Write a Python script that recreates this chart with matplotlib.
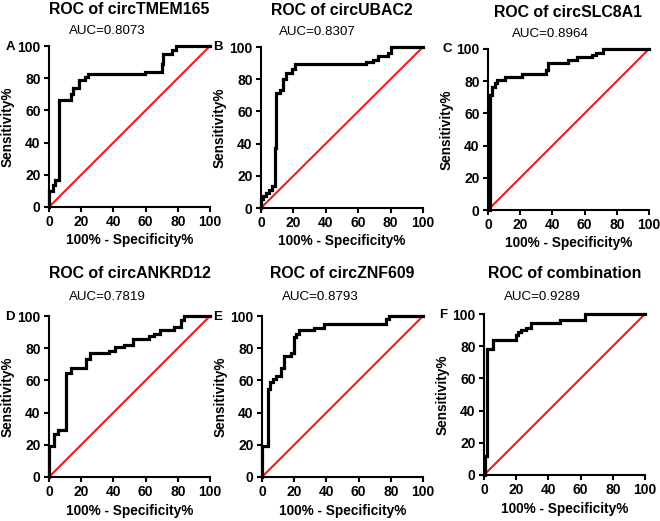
import matplotlib
matplotlib.use("Agg")
import matplotlib.pyplot as plt

plt.rcParams['font.family'] = ['Liberation Sans', 'DejaVu Sans']

# titles / AUC labels / panel letters
titles = ["ROC of circTMEM165", "ROC of circUBAC2", "ROC of circSLC8A1",
          "ROC of circANKRD12", "ROC of circZNF609", "ROC of combination"]
aucs = ["AUC=0.8073", "AUC=0.8307", "AUC=0.8964",
        "AUC=0.7819", "AUC=0.8793", "AUC=0.9289"]
letters = ["A", "B", "C", "D", "E", "F"]

# ROC corner points (100% - specificity, sensitivity), drawn as steps-post
fpr_a = [0, 0, 2.5, 4, 6.2, 13.5, 15, 18.6, 22.4, 24.4, 59.6, 70, 71, 76.6, 78.7, 100]
tpr_a = [0, 10, 13.5, 17, 66.7, 70, 74, 79, 80.6, 82.7, 84, 89, 95, 97.7, 100, 100]

fpr_b = [0, 0, 1, 3, 5, 6.6, 8.5, 9.5, 12, 13.5, 15.5, 19, 21, 65, 69, 72, 78.5, 80.5, 100]
tpr_b = [0, 5.6, 7.3, 9.3, 11, 13.5, 37.5, 71.5, 73.5, 80, 84, 86.5, 89.5, 90.5, 92, 94.5, 96, 100, 100]

fpr_c = [0, 1.5, 2.7, 4.2, 5.8, 10.4, 21.4, 36, 37.4, 49.5, 55.3, 64.5, 67, 71.3, 100]
tpr_c = [0, 71.3, 76.5, 79, 81, 82.7, 84.2, 86.9, 91.5, 93, 94.8, 96.3, 97.7, 100, 100]

fpr_d = [0, 0, 3.1, 5.8, 10.8, 13.5, 23.2, 25.3, 37.3, 40.8, 46.6, 52.2, 62, 65.2, 68.9, 77.6, 82, 84, 100]
tpr_d = [0, 19.2, 26.5, 29, 64.4, 68, 73.3, 76.9, 78.5, 80.6, 82, 85.8, 87.3, 89, 91, 93, 97.5, 100, 100]

fpr_e = [0, 0, 3.5, 5, 6.6, 8.7, 11.8, 13.5, 18, 19.7, 21, 23.2, 32, 38.7, 77, 79, 100]
tpr_e = [0, 19.2, 54.6, 58.8, 60.8, 63, 67.7, 75.4, 77, 87, 89, 91, 92.5, 94.8, 98.3, 100, 100]

fpr_f = [0, 0.4, 1.9, 5.6, 19.7, 21, 23.2, 26.3, 29.4, 47, 62.5, 100]
tpr_f = [0, 12, 78.5, 84, 87, 89, 90, 91.5, 94.5, 96.2, 100, 100]

fprs = [fpr_a, fpr_b, fpr_c, fpr_d, fpr_e, fpr_f]
tprs = [tpr_a, tpr_b, tpr_c, tpr_d, tpr_e, tpr_f]

ticks = [0, 20, 40, 60, 80, 100]

W, H = 660, 521
# axes boxes in pixels: left, right, top, bottom
boxes = [(49, 210, 46, 207), (261, 423, 47, 208), (488, 649, 49, 210),
         (49, 210, 316, 477), (262, 423, 316, 477), (484, 645, 314, 475)]
title_off = [1.224, 1.224, 1.224, 1.267, 1.267, 1.253]
auc_x = [36, 35, 39, 36, 36, 36]
auc_y = [109.5, 109.5, 109.5, 111.8, 111.8, 110.7]

fig = plt.figure(figsize=(W / 100, H / 100), dpi=100)

for i in range(6):
    l, r, t, b = boxes[i]
    ax = fig.add_axes([l / W, 1 - b / H, (r - l) / W, (b - t) / H])
    # chance line
    ax.plot(ticks[::5], ticks[::5], color='#ee1c1c', lw=1.5, clip_on=False, zorder=2)
    ax.plot(fprs[i], tprs[i], color='black', lw=2.3, drawstyle='steps-post',
            clip_on=False, zorder=3, solid_joinstyle='miter')
    ax.set_xlim(0, 100)
    ax.set_ylim(0, 100)
    ax.set_xticks(ticks)
    ax.set_yticks(ticks)
    for s in ['top', 'right']:
        ax.spines[s].set_visible(False)
    for s in ['left', 'bottom']:
        ax.spines[s].set_linewidth(1.5)
    ax.tick_params(direction='out', length=3.5, width=1.5, labelsize=10, pad=2.5)
    for lab in ax.get_xticklabels() + ax.get_yticklabels():
        lab.set_fontweight('bold')
    ax.set_xlabel("100% - Specificity%", fontsize=9.8, fontweight='bold', labelpad=3)
    ax.set_ylabel("Sensitivity%", fontsize=9.8, fontweight='bold', labelpad=2)
    ax.text(0.5, title_off[i], titles[i], transform=ax.transAxes, ha='center',
            va='center', fontsize=11.4, fontweight='bold')
    ax.text(auc_x[i], auc_y[i], aucs[i], ha='center', va='center', fontsize=9.6)
    lx = [10, 218, 447, 10, 218, 443][i]
    fig.text(lx / W, 1 - (t + 0.5) / H, letters[i], ha='center', va='center',
             fontsize=9.5, fontweight='bold')

fig.savefig("out.png", dpi=100)
